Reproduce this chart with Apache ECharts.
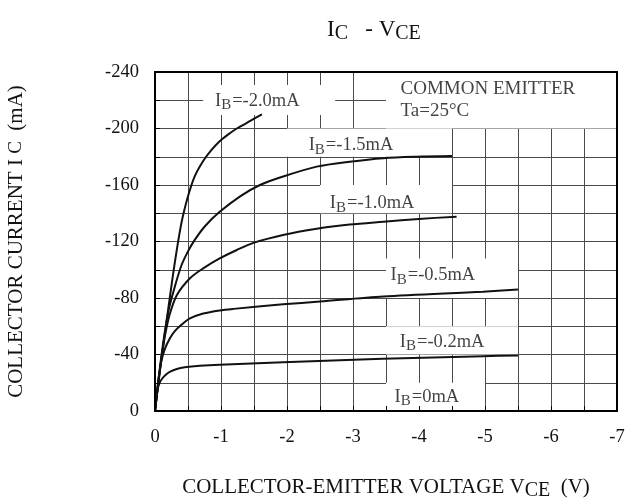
<!DOCTYPE html>
<html><head><meta charset="utf-8">
<script src="https://cdn.jsdelivr.net/npm/echarts@6/dist/echarts.min.js"></script>
<style>html,body{margin:0;padding:0;background:#fff}#c{width:625px;height:501px}</style>
</head><body><div id="c"></div>
<script>
// ---- data (V_CE in volts, I_C in mA) ----
const vce_ib20 = [0, -0.1, -0.2, -0.3, -0.4, -0.5, -0.6, -0.73, -0.85, -0.98, -1.1, -1.24, -1.45, -1.62];
const ic_ib20  = [0, -38, -72, -105, -133, -152, -166, -177, -184.5, -191, -195.5, -200, -205.5, -210];
const vce_ib15 = [0, -0.1, -0.2, -0.3, -0.4, -0.5, -0.6, -0.76, -0.98, -1.29, -1.59, -1.94, -2.45, -2.95, -3.46, -3.96, -4.5];
const ic_ib15  = [0, -40, -70, -88, -103, -113, -121, -131, -141, -152, -160, -166, -173, -176.5, -179, -180, -180.5];
const vce_ib10 = [0, -0.05, -0.1, -0.15, -0.22, -0.33, -0.53, -0.73, -0.98, -1.24, -1.49, -1.94, -2.45, -2.95, -3.46, -4.0, -4.57];
const ic_ib10  = [0, -20, -38, -53, -68, -82, -94, -101, -108, -114, -119, -124.6, -129, -132, -134, -136, -137.6];
const vce_ib05 = [0, -0.03, -0.06, -0.1, -0.15, -0.22, -0.3, -0.4, -0.53, -0.73, -0.98, -1.19, -1.94, -2.5, -3.46, -4.97, -5.5];
const ic_ib05  = [0, -13, -25, -36, -44, -51, -56.5, -61, -65.5, -69, -71.2, -72.3, -75.5, -77.5, -81, -84.5, -86];
const vce_ib02 = [0, -0.02, -0.04, -0.07, -0.11, -0.16, -0.23, -0.33, -0.45, -0.68, -0.98, -1.94, -3.45, -4.97, -5.5];
const ic_ib02  = [0, -9, -15.5, -20, -23, -25.5, -27.8, -29.7, -30.9, -32, -32.8, -34.5, -37, -38.8, -39.3];
const vce_ib00 = [0, -5.5];
const ic_ib00  = [0, 0];

const curveNames = ['IB=-2.0mA', 'IB=-1.5mA', 'IB=-1.0mA', 'IB=-0.5mA', 'IB=-0.2mA', 'IB=0mA'];
const curveV = [vce_ib20, vce_ib15, vce_ib10, vce_ib05, vce_ib02, vce_ib00];
const curveI = [ic_ib20, ic_ib15, ic_ib10, ic_ib05, ic_ib02, ic_ib00];

const xTickMin = -7, xTickMax = 0, xTickStep = 1;
const yTickMin = -240, yTickMax = 0, yTickStep = 40;

const labelTexts = ['=-2.0mA', '=-1.5mA', '=-1.0mA', '=-0.5mA', '=-0.2mA', '=0mA'];

// ---- annotation layout (data coords) ----
const labelPos = [[-1.55, -219.5], [-2.97, -188], [-3.29, -147], [-4.21, -96], [-4.35, -49], [-4.12, -10]];
const boxes = [
  [-0.73, -230.8, -2.73, -209.6],
  [-2.0, -180, -4.5, -200],
  [-2.5, -140, -4.5, -160],
  [-3.5, -80, -5.5, -108],
  [-3.5, -40, -5.5, -60],
  [-3.5, 0, -5.0, -20],
  [-3.5, -200, -7, -240]
];

const FF = 'Liberation Serif';
const richLbl = {
  m: {fontSize: 18.5, fontFamily: FF, color: '#111'},
  s: {fontSize: 15, fontFamily: FF, color: '#111', padding: [9, 1, 0, 0]}
};

const chart = echarts.init(document.getElementById('c'));

const frameLine = {show: true, onZero: false, lineStyle: {color: '#000', width: 2}};
const gridLine = {color: '#4a4a4a', width: 1};

const series = curveNames.map((n, k) => ({
  name: n, type: 'line', xAxisIndex: 0, yAxisIndex: 0, z: 5,
  data: curveV[k].map((v, j) => [v, curveI[k][j]]),
  smooth: 0.3, showSymbol: false, symbol: 'none',
  lineStyle: {color: '#111', width: 2}, silent: true
}));

series.push({
  type: 'scatter', xAxisIndex: 0, yAxisIndex: 0, z: 1, data: [], silent: true,
  markArea: {
    silent: true,
    itemStyle: {color: '#fff', opacity: 1},
    label: {show: false},
    data: boxes.map(b => [{coord: [b[0], b[1]]}, {coord: [b[2], b[3]]}])
  }
});

series.push({
  type: 'scatter', xAxisIndex: 0, yAxisIndex: 0, z: 6, symbolSize: 0, silent: true,
  data: labelTexts.map((t, k) => ({
    value: labelPos[k],
    label: {show: true, position: 'inside', formatter: '{m|I}{s|B}{m|' + t + '}', rich: richLbl}
  })).concat([{
    value: [-3.72, -220],
    label: {show: true, position: 'inside', align: 'left', lineHeight: 22,
      formatter: '{m|COMMON EMITTER}\n{m|Ta=25\u00B0C}', rich: {m: {fontSize: 19, fontFamily: FF, color: '#111', lineHeight: 22}}}
  }])
});

chart.setOption({
  animation: false,
  backgroundColor: '#fff',
  title: {
    text: '{m|I}{s|C}{m|   - V}{s|CE}',
    left: 322, top: 10,
    textStyle: {fontWeight: 'normal', rich: {
      m: {fontSize: 23, fontFamily: FF, color: '#111', fontWeight: 'normal'},
      s: {fontSize: 20, fontFamily: FF, color: '#111', fontWeight: 'normal', padding: [9, 0, 0, 0]}
    }}
  },
  grid: {left: 155, top: 72, width: 462, height: 339, containLabel: false, outerBoundsMode: 'none'},
  xAxis: [
    {
      type: 'value', min: xTickMin, max: xTickMax, interval: xTickStep, inverse: true, position: 'bottom', z: 10,
      axisLine: frameLine,
      axisTick: {show: true, inside: true, length: 5, lineStyle: {color: '#000'}},
      minorTick: {show: true, splitNumber: 2, length: 5, lineStyle: {color: '#000'}},
      splitLine: {show: false},
      axisLabel: {margin: 17, fontSize: 18.5, fontFamily: FF, color: '#111'},
      name: '{m|COLLECTOR-EMITTER VOLTAGE V}{s|CE}{m|  (V)}',
      nameLocation: 'middle', nameGap: 63,
      nameTextStyle: {rich: {
        m: {fontSize: 21, fontFamily: FF, color: '#111'},
        s: {fontSize: 20, fontFamily: FF, color: '#111', padding: [7, 0, 0, 0]}
      }}
    },
    {
      type: 'value', min: xTickMin, max: xTickMax, interval: xTickStep, inverse: true, position: 'bottom', z: 0,
      axisLine: {show: false, onZero: false}, axisTick: {show: false}, axisLabel: {show: false},
      minorTick: {show: false, splitNumber: 2},
      splitLine: {show: true, lineStyle: gridLine},
      minorSplitLine: {show: true, lineStyle: gridLine}
    },
    {
      type: 'value', min: xTickMin, max: xTickMax, interval: xTickStep, inverse: true, position: 'top', z: 10,
      axisLine: frameLine, axisTick: {show: false}, axisLabel: {show: false}, splitLine: {show: false}
    }
  ],
  yAxis: [
    {
      type: 'value', min: yTickMin, max: yTickMax, interval: yTickStep, inverse: true, position: 'left', z: 10,
      axisLine: frameLine,
      axisTick: {show: true, inside: true, length: 5, lineStyle: {color: '#000'}},
      minorTick: {show: true, splitNumber: 2, length: 5, lineStyle: {color: '#000'}},
      splitLine: {show: false},
      axisLabel: {margin: 16, fontSize: 18.5, fontFamily: FF, color: '#111'},
      name: '{m|COLLECTOR CURRENT I }{s|C}{m|  (mA)}',
      nameLocation: 'middle', nameGap: 128, nameRotate: 90,
      nameTextStyle: {rich: {
        m: {fontSize: 21, fontFamily: FF, color: '#111'},
        s: {fontSize: 19, fontFamily: FF, color: '#111'}
      }}
    },
    {
      type: 'value', min: yTickMin, max: yTickMax, interval: yTickStep, inverse: true, position: 'left', z: 0,
      axisLine: {show: false, onZero: false}, axisTick: {show: false}, axisLabel: {show: false},
      minorTick: {show: false, splitNumber: 2},
      splitLine: {show: true, lineStyle: gridLine},
      minorSplitLine: {show: true, lineStyle: gridLine}
    },
    {
      type: 'value', min: yTickMin, max: yTickMax, interval: yTickStep, inverse: true, position: 'right', z: 10,
      axisLine: frameLine, axisTick: {show: false}, axisLabel: {show: false}, splitLine: {show: false}
    }
  ],
  series: series
});
</script>
</body></html>
